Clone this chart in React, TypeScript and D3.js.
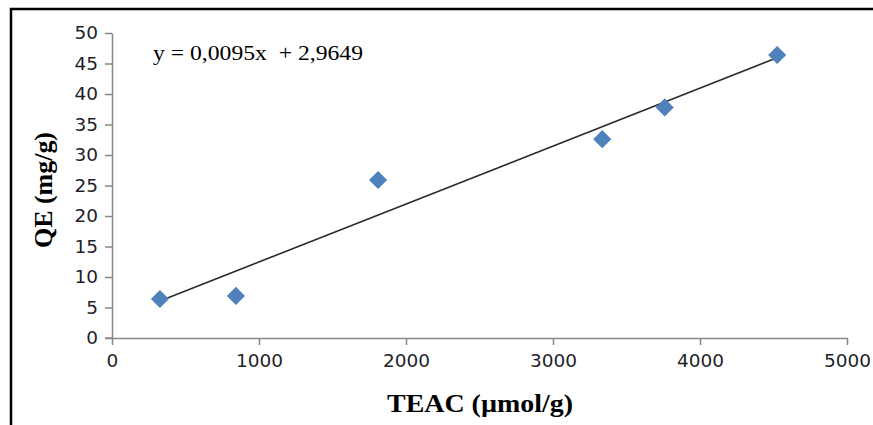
import React, { useEffect, useRef } from 'react';
import * as d3 from 'd3';

// TEAC (µmol/g) vs QE (mg/g)
const teac = [326, 843, 1810, 3335, 3760, 4525];
const qe = [6.4, 6.9, 25.9, 32.6, 37.8, 46.4];

const xTicks = [0, 1000, 2000, 3000, 4000, 5000];
const yTicks = [0, 5, 10, 15, 20, 25, 30, 35, 40, 45, 50];

// linear fit shown on the chart
const slope = 0.0095;
const intercept = 2.9649;
const equation = 'y = 0,0095x  + 2,9649';

export default function App() {
  const svgRef = useRef<SVGSVGElement>(null);

  useEffect(() => {
    if (!svgRef.current) return;

    const width = 873;
    const height = 425;

    const svg = d3.select(svgRef.current)
      .attr('width', width)
      .attr('height', height);

    svg.selectAll('*').remove();

    const x = d3.scaleLinear().domain([0, 5000]).range([112, 847]);
    const y = d3.scaleLinear().domain([0, 50]).range([338, 33]);

    // outer frame (only top and left edges visible)
    svg.append('line')
      .attr('x1', 10).attr('x2', width)
      .attr('y1', 9).attr('y2', 9)
      .attr('stroke', '#000').attr('stroke-width', 2.5);
    svg.append('line')
      .attr('x1', 11).attr('x2', 11)
      .attr('y1', 8).attr('y2', height)
      .attr('stroke', '#000').attr('stroke-width', 2.5);

    const axisColor = '#868686';
    const labelColor = '#1f1f2a';

    // Y axis
    const gy = svg.append('g')
      .attr('transform', `translate(${x(0)},0)`)
      .call(d3.axisLeft(y).tickValues(yTicks).tickSize(7).tickPadding(7).tickSizeOuter(0));
    gy.select('.domain').attr('stroke', axisColor).attr('stroke-width', 1.5);
    gy.selectAll('.tick line').attr('stroke', axisColor).attr('stroke-width', 1.5);
    gy.selectAll('.tick text')
      .attr('fill', labelColor)
      .style('font-family', '"DejaVu Sans", sans-serif')
      .style('font-size', '18.5px');

    // X axis
    const gx = svg.append('g')
      .attr('transform', `translate(0,${y(0)})`)
      .call(d3.axisBottom(x).tickValues(xTicks).tickFormat(d3.format('d')).tickSize(7).tickPadding(9).tickSizeOuter(0));
    gx.select('.domain').attr('stroke', axisColor).attr('stroke-width', 1.5);
    gx.selectAll('.tick line').attr('stroke', axisColor).attr('stroke-width', 1.5);
    gx.selectAll('.tick text')
      .attr('fill', labelColor)
      .style('font-family', '"DejaVu Sans", sans-serif')
      .style('font-size', '18.5px');
    // y tick at 0 sticks out left of the axis line too
    svg.append('line')
      .attr('x1', x(0) - 7).attr('x2', x(0))
      .attr('y1', y(0)).attr('y2', y(0))
      .attr('stroke', axisColor).attr('stroke-width', 1.5);

    // trendline over the data range
    const [xmin, xmax] = d3.extent(teac) as [number, number];
    svg.append('line')
      .attr('x1', x(xmin)).attr('y1', y(slope * xmin + intercept))
      .attr('x2', x(xmax)).attr('y2', y(slope * xmax + intercept))
      .attr('stroke', '#2b2b2b')
      .attr('stroke-width', 1.6);

    // diamond markers
    const diamond = d3.symbol().type(d3.symbolDiamond2).size(210);
    svg.selectAll('.pt')
      .data(teac.map((t, i) => [t, qe[i]]))
      .enter()
      .append('path')
      .attr('class', 'pt')
      .attr('d', diamond)
      .attr('transform', d => `translate(${x(d[0])},${y(d[1])})`)
      .attr('fill', '#4f81bd');

    // regression equation
    svg.append('text')
      .attr('x', 153)
      .attr('y', 60)
      .attr('xml:space', 'preserve')
      .attr('textLength', 210)
      .attr('lengthAdjust', 'spacingAndGlyphs')
      .style('font-family', '"Liberation Serif", serif')
      .style('font-size', '20.5px')
      .style('white-space', 'pre')
      .attr('fill', '#000')
      .text(equation);

    // axis titles
    svg.append('text')
      .attr('x', 480)
      .attr('y', 412)
      .attr('text-anchor', 'middle')
      .attr('textLength', 186)
      .attr('lengthAdjust', 'spacingAndGlyphs')
      .style('font-family', '"Liberation Serif", serif')
      .style('font-size', '26px')
      .style('font-weight', 'bold')
      .attr('fill', '#000')
      .text('TEAC (µmol/g)');

    svg.append('text')
      .attr('transform', 'translate(52,190) rotate(-90)')
      .attr('text-anchor', 'middle')
      .attr('textLength', 116)
      .attr('lengthAdjust', 'spacingAndGlyphs')
      .style('font-family', '"Liberation Serif", serif')
      .style('font-size', '25px')
      .style('font-weight', 'bold')
      .attr('fill', '#000')
      .text('QE (mg/g)');
  }, []);

  return (
    <div style={{ position: 'absolute', left: 0, top: 0, width: 873, height: 425, background: '#fff' }}>
      <svg ref={svgRef} style={{ display: 'block' }}></svg>
    </div>
  );
}
